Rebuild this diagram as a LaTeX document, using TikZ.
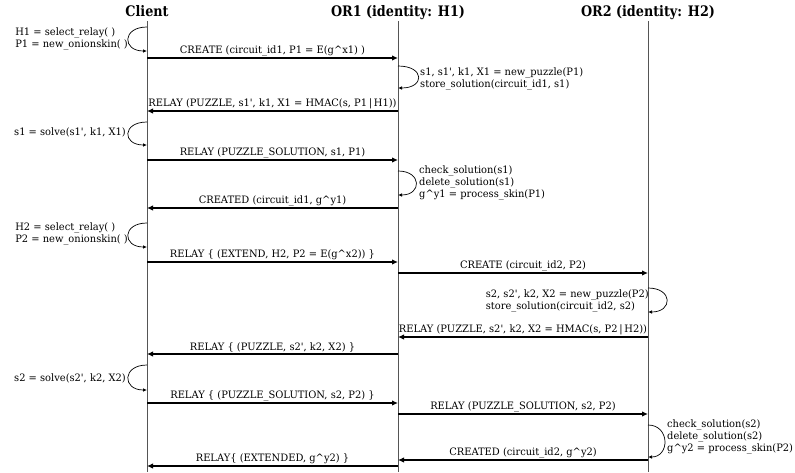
\documentclass[tikz,border=0pt]{standalone}
\usepackage{fontspec}
\newfontfamily\bodyfont{DejaVu Serif}[FakeStretch=0.97]
\newfontfamily\headfont{DejaVu Serif}[FakeStretch=0.88]
\usetikzlibrary{arrows.meta}
\definecolor{lifegray}{RGB}{85,85,85}
\newcommand{\crt}{\textasciicircum}

\begin{document}
\begin{tikzpicture}[
    x=1pt, y=-1pt,
    head/.style={font=\headfont\bfseries\fontsize{14.5}{16}\selectfont, anchor=base, inner sep=0pt},
    lifeline/.style={draw=lifegray, line width=0.9pt},
    msg/.style={-{Latex[length=6pt,width=5.5pt]}, line width=1.2pt},
    selfloop/.style={-{Latex[length=4pt,width=3.5pt]}, line width=0.7pt},
    lbl/.style={above, inner sep=1.2pt, font=\bodyfont\fontsize{10.2}{11}\selectfont},
    note/.style={align=left, inner sep=1pt, font=\bodyfont\fontsize{10.2}{12}\selectfont}
]
\useasboundingbox (0,0) rectangle (795,472);

% Participants
\node[head] (client) at (147,16) {Client};
\node[head] (or1) at (398,16) {OR1 (identity: H1)};
\node[head] (or2) at (648,16) {OR2 (identity: H2)};

% Lifelines
\foreach \n in {client,or1,or2}
    \draw[lifeline] (\n |- 0,21) -- (\n |- 0,472);

% First hop
\draw[selfloop] (client |- 0,27) .. controls +(-25,0) and +(-25,0) .. (client |- 0,51);
\node[note, anchor=east] (c_sel1) at (129,38.5) {H1 = select\_relay( )\\P1 = new\_onionskin( )};
\draw[msg] (client |- 0,58) -- node[lbl] {CREATE (circuit\_id1, P1 = E(g\crt x1) )} (or1 |- 0,58);
\draw[selfloop] (or1 |- 0,66) .. controls +(27,0) and +(27,0) .. (or1 |- 0,88);
\node[note, anchor=west] (o1_puz) at (419,78.5) {s1, s1', k1, X1 = new\_puzzle(P1)\\store\_solution(circuit\_id1, s1)};
\draw[msg] (or1 |- 0,111) -- node[lbl] {RELAY (PUZZLE, s1', k1, X1 = HMAC(s, P1\,|\,H1))} (client |- 0,111);
\draw[selfloop] (client |- 0,122) .. controls +(-25,0) and +(-25,0) .. (client |- 0,145);
\node[note, anchor=east] (c_solve1) at (127,132) {s1 = solve(s1', k1, X1)};
\draw[msg] (client |- 0,160) -- node[lbl] {RELAY (PUZZLE\_SOLUTION, s1, P1)} (or1 |- 0,160);
\draw[selfloop] (or1 |- 0,171) .. controls +(24,0) and +(24,0) .. (or1 |- 0,195);
\node[note, anchor=west] (o1_check) at (418,183) {check\_solution(s1)\\delete\_solution(s1)\\g\crt y1 = process\_skin(P1)};
\draw[msg] (or1 |- 0,208) -- node[lbl] {CREATED (circuit\_id1, g\crt y1)} (client |- 0,208);

% Second hop
\draw[selfloop] (client |- 0,223) .. controls +(-25,0) and +(-25,0) .. (client |- 0,247);
\node[note, anchor=east] (c_sel2) at (129,234) {H2 = select\_relay( )\\P2 = new\_onionskin( )};
\draw[msg] (client |- 0,262) -- node[lbl] {RELAY \{ (EXTEND, H2, P2 = E(g\crt x2)) \}} (or1 |- 0,262);
\draw[msg] (or1 |- 0,273) -- node[lbl] {CREATE (circuit\_id2, P2)} (or2 |- 0,273);
\draw[selfloop] (or2 |- 0,288) .. controls +(25,0) and +(25,0) .. (or2 |- 0,312);
\node[note, anchor=east] (o2_puz) at (650,300.5) {s2, s2', k2, X2 = new\_puzzle(P2)\\store\_solution(circuit\_id2, s2)};
\draw[msg] (or2 |- 0,337) -- node[lbl] {RELAY (PUZZLE, s2', k2, X2 = HMAC(s, P2\,|\,H2))} (or1 |- 0,337);
\draw[msg] (or1 |- 0,354) -- node[lbl] {RELAY \{ (PUZZLE, s2', k2, X2) \}} (client |- 0,354);
\draw[selfloop] (client |- 0,365) .. controls +(-25,0) and +(-25,0) .. (client |- 0,390);
\node[note, anchor=east] (c_solve2) at (127,378) {s2 = solve(s2', k2, X2)};
\draw[msg] (client |- 0,403) -- node[lbl] {RELAY \{ (PUZZLE\_SOLUTION, s2, P2) \}} (or1 |- 0,403);
\draw[msg] (or1 |- 0,414) -- node[lbl] {RELAY (PUZZLE\_SOLUTION, s2, P2)} (or2 |- 0,414);
\draw[selfloop] (or2 |- 0,425) .. controls +(22,0) and +(22,0) .. (or2 |- 0,457);
\node[note, anchor=west] (o2_check) at (666,437) {check\_solution(s2)\\delete\_solution(s2)\\g\crt y2 = process\_skin(P2)};
\draw[msg] (or2 |- 0,460) -- node[lbl] {CREATED (circuit\_id2, g\crt y2)} (or1 |- 0,460);
\draw[msg] (or1 |- 0,466) -- node[lbl] {RELAY\{ (EXTENDED, g\crt y2) \}} (client |- 0,466);

\end{tikzpicture}
\end{document}
